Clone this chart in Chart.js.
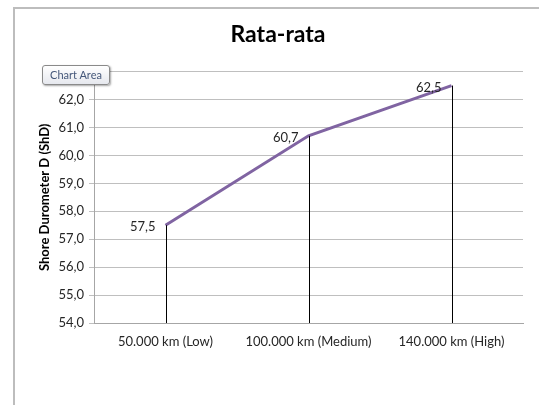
<!DOCTYPE html>
<html>
<head>
<meta charset="utf-8">
<script src="https://cdn.jsdelivr.net/npm/chart.js@4/dist/chart.umd.min.js"></script>
<style>
  html, body { margin: 0; padding: 0; background: #fff; }
  #wrap { position: relative; width: 539px; height: 405px; overflow: hidden; }
  #frame { position: absolute; left: 13px; top: 7px; width: 600px; height: 500px;
           border-left: 2px solid #bdbdbd; border-top: 2px solid #bdbdbd; }
  canvas { position: absolute; left: 0; top: 0; }
  #tip { position: absolute; left: 42px; top: 65px; width: 66px; height: 18px;
         border: 1px solid #8a8a8a; border-radius: 3px;
         background: linear-gradient(#ffffff, #e6e8ee);
         box-shadow: 1px 1px 2px rgba(0,0,0,0.35);
         font: 11px Lato, "Open Sans", sans-serif; color: #45577a;
         line-height: 18px; text-align: center; }
</style>
</head>
<body>
<div id="wrap">
  <div id="frame"></div>
  <canvas id="c" width="539" height="405"></canvas>
  <div id="tip">Chart Area</div>
</div>
<script>
// data
const categories = ["50.000 km (Low)", "100.000 km (Medium)", "140.000 km (High)"];
const values = [57.5, 60.7, 62.5];
const yMin = 54, yMax = 63;

const FONT = "Lato, 'Open Sans', sans-serif";
const fmt = v => v.toFixed(1).replace(".", ",");

// vertical drop lines from each point to the x axis + value labels
const dropLines = {
  id: "dropLines",
  afterDatasetsDraw(chart) {
    const ctx = chart.ctx;
    const meta = chart.getDatasetMeta(0);
    const bottom = chart.scales.y.bottom;
    ctx.save();
    ctx.strokeStyle = "#000";
    ctx.lineWidth = 1;
    meta.data.forEach((pt, i) => {
      const x = Math.round(pt.x) + 0.5;
      ctx.beginPath();
      ctx.moveTo(x, pt.y);
      ctx.lineTo(x, bottom);
      ctx.stroke();
      ctx.fillStyle = "#262626";
      ctx.font = "13px " + FONT;
      ctx.textAlign = "right";
      ctx.textBaseline = "middle";
      ctx.fillText(fmt(values[i]), pt.x - 10, pt.y + 2);
    });
    ctx.restore();
  }
};

new Chart(document.getElementById("c"), {
  type: "line",
  data: {
    labels: categories,
    datasets: [{
      data: values,
      borderColor: "#8064a2",
      borderWidth: 3,
      pointRadius: 0,
      tension: 0
    }]
  },
  options: {
    responsive: false,
    animation: false,
    layout: { padding: { left: 33, right: 16, top: 0, bottom: 0 } },
    plugins: {
      legend: { display: false },
      tooltip: { enabled: false },
      title: {
        display: true,
        text: "Rata-rata",
        color: "#000",
        font: { family: FONT, size: 23, weight: "bold", lineHeight: 1.2 },
        padding: { top: 21, bottom: 23 }
      }
    },
    scales: {
      x: {
        offset: true,
        grid: { display: false, drawTicks: false, offset: true },
        border: { display: true, color: "#a6a6a6" },
        ticks: { color: "#262626", font: { family: FONT, size: 13 }, padding: 11, maxRotation: 0 },
        afterFit(s) { s.height = 405 - 323; }
      },
      y: {
        min: yMin, max: yMax,
        ticks: { stepSize: 1, color: "#262626", font: { family: FONT, size: 13 }, padding: 5,
                 callback: v => fmt(v) },
        grid: { color: "#bfbfbf", tickLength: 5 },
        border: { color: "#a6a6a6" },
        title: { display: true, text: "Shore Durometer D (ShD)", color: "#000",
                 font: { family: FONT, size: 13, weight: "bold" }, padding: 4 },
        afterFit(s) { s.width = 94 - 33; }
      }
    }
  },
  plugins: [dropLines]
});
</script>
</body>
</html>
